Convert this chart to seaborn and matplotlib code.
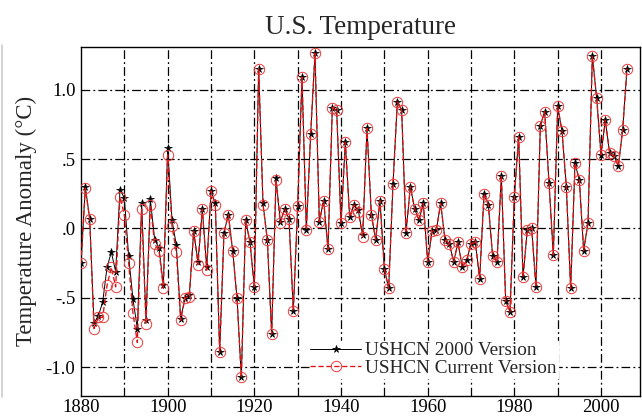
import matplotlib
matplotlib.use("Agg")
import matplotlib.pyplot as plt
import seaborn as sns
import numpy as np
import pandas as pd
from matplotlib.lines import Line2D

# ---------------- data ----------------
years = list(range(1880, 2007))

ushcn_2000 = [
    -0.25, 0.30, 0.07, -0.68, -0.63, -0.53, -0.28, -0.17, -0.31, 0.28,   # 1880s
    0.22, -0.20, -0.51, -0.72, 0.18, -0.66, 0.21, -0.08, -0.14, -0.41,    # 1890s
    0.58, 0.06, -0.12, -0.65, -0.50, -0.48, -0.02, -0.24, 0.14, -0.28,    # 1900s
    0.27, 0.18, -0.89, -0.03, 0.10, -0.16, -0.50, -1.07, 0.06, -0.10,     # 1910s
    -0.42, 1.15, 0.18, -0.08, -0.76, 0.36, 0.05, 0.14, 0.07, -0.59,       # 1920s
    0.16, 1.09, -0.01, 0.68, 1.26, 0.05, 0.20, -0.15, 0.87, 0.85,         # 1930s
    0.04, 0.62, 0.08, 0.17, 0.13, -0.05, 0.72, 0.10, -0.08, 0.20,         # 1940s
    -0.29, -0.43, 0.32, 0.91, 0.85, -0.03, 0.30, 0.14, 0.06, 0.18,        # 1950s
    -0.24, -0.02, -0.01, 0.18, -0.08, -0.11, -0.24, -0.10, -0.28, -0.23,  # 1960s
    -0.11, -0.10, -0.36, 0.25, 0.17, -0.20, -0.24, 0.38, -0.52, -0.60,    # 1970s
    0.23, 0.66, -0.35, -0.01, 0.00, -0.42, 0.74, 0.84, 0.33, -0.19,       # 1980s
    0.88, 0.70, 0.30, -0.43, 0.47, 0.35, -0.16, 0.04, 1.24, 0.94,         # 1990s
    0.53, 0.78, 0.54, 0.52, 0.45, 0.71, 1.15,                             # 2000s
]

ushcn_current = [
    -0.25, 0.29, 0.07, -0.72, -0.64, -0.64, -0.41, -0.28, -0.42, 0.23,   # 1880s
    0.10, -0.25, -0.61, -0.82, 0.14, -0.69, 0.17, -0.11, -0.16, -0.43,    # 1890s
    0.53, 0.02, -0.17, -0.66, -0.50, -0.49, -0.02, -0.26, 0.14, -0.30,    # 1900s
    0.27, 0.17, -0.89, -0.03, 0.10, -0.16, -0.50, -1.07, 0.06, -0.10,     # 1910s
    -0.42, 1.15, 0.17, -0.08, -0.76, 0.35, 0.04, 0.14, 0.07, -0.59,       # 1920s
    0.16, 1.09, -0.01, 0.68, 1.26, 0.05, 0.20, -0.15, 0.87, 0.85,         # 1930s
    0.04, 0.62, 0.08, 0.17, 0.12, -0.06, 0.72, 0.10, -0.08, 0.20,         # 1940s
    -0.29, -0.43, 0.32, 0.91, 0.85, -0.03, 0.30, 0.14, 0.06, 0.18,        # 1950s
    -0.24, -0.02, -0.01, 0.18, -0.08, -0.11, -0.24, -0.10, -0.28, -0.23,  # 1960s
    -0.11, -0.10, -0.36, 0.25, 0.17, -0.20, -0.24, 0.38, -0.52, -0.60,    # 1970s
    0.23, 0.66, -0.35, -0.01, 0.00, -0.42, 0.74, 0.84, 0.33, -0.19,       # 1980s
    0.88, 0.70, 0.30, -0.43, 0.47, 0.35, -0.16, 0.04, 1.24, 0.94,         # 1990s
    0.53, 0.78, 0.54, 0.52, 0.45, 0.71, 1.15,                             # 2000s
]

series_labels = ["USHCN 2000 Version", "USHCN Current Version"]
x_ticks = [1880, 1900, 1920, 1940, 1960, 1980, 2000]
x_tick_labels = ["1880", "1900", "1920", "1940", "1960", "1980", "2000"]
x_grid = list(range(1890, 2010, 10))
y_ticks = [-1.0, -0.5, 0.0, 0.5, 1.0]
y_tick_labels = ["-1.0", "-.5", ".0", ".5", "1.0"]
title = "U.S. Temperature"
y_label = "Temperature Anomaly (\u00b0C)"

df = pd.DataFrame({"year": years, "v2000": ushcn_2000, "vcur": ushcn_current})

# ---------------- style ----------------
sns.set_style("white")
plt.rcParams["font.family"] = ["Liberation Serif", "DejaVu Serif"]

fig = plt.figure(figsize=(6.42, 4.16), dpi=100)
ax = fig.add_axes([81 / 642, 1 - 395.7 / 416, (640 - 81) / 642, (395.7 - 46.7) / 416])

sns.lineplot(data=df, x="year", y="v2000", ax=ax, color="black", linewidth=0.7,
             marker="*", markersize=5.5, markeredgewidth=0.5, markeredgecolor="black",
             label=series_labels[0], zorder=3)
sns.lineplot(data=df, x="year", y="vcur", ax=ax, color="#e01010", linewidth=0.95,
             linestyle=(0, (4, 2)), marker="o", markersize=7.5, markerfacecolor="none",
             markeredgecolor="#e63a3a", markeredgewidth=0.7,
             label=series_labels[1], zorder=4)

ax.set_xlim(1880, 2009)
ax.set_ylim(-1.203, 1.308)

ax.set_xticks(x_ticks)
ax.set_xticklabels(x_tick_labels, fontsize=13.5)
ax.set_yticks(y_ticks)
ax.set_yticklabels(y_tick_labels, fontsize=13.5)
ax.tick_params(axis="y", length=0, pad=4, colors="black")
ax.tick_params(axis="x", length=0, pad=2.5, colors="black")

grid_style = dict(color="black", linewidth=0.9, linestyle=(0, (7, 2.5, 1.5, 2.5)), zorder=1)
for gx in x_grid:
    ax.axvline(gx, **grid_style)
for gy in y_ticks:
    ax.axhline(gy, **grid_style)

for s in ax.spines.values():
    s.set_color("black")
    s.set_linewidth(1.0)

ax.set_xlabel("")
ax.set_ylabel(y_label, fontsize=16.5, labelpad=6)
ax.set_title(title, fontsize=19.5, pad=9)

leg = ax.legend(loc="center", bbox_to_anchor=(0.631, 0.104), fontsize=13.9,
                frameon=True, fancybox=False, framealpha=1.0, edgecolor="white",
                facecolor="white", labelspacing=0.0, handlelength=2.6,
                handletextpad=0.25, borderpad=0.05, borderaxespad=0.0)
leg.set_zorder(5)

# faint page border at the left edge
fig.add_artist(Line2D([0.003, 0.003], [0.046, 0.892], transform=fig.transFigure,
                      color="#cccccc", linewidth=1.2))

fig.savefig("out.png", dpi=100)
